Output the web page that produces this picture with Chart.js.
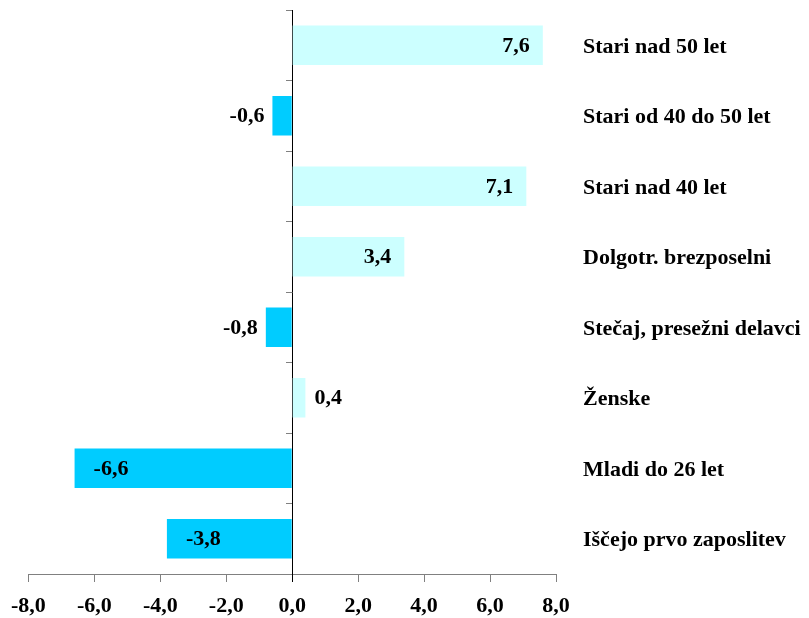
<!DOCTYPE html>
<html><head><meta charset="utf-8">
<script src="https://cdn.jsdelivr.net/npm/chart.js@4/dist/chart.umd.min.js"></script>
<style>html,body{margin:0;padding:0;background:#fff}</style>
</head><body>
<canvas id="c" width="809" height="618"></canvas>
<script>
const categories = ["Stari nad 50 let","Stari od 40 do 50 let","Stari nad 40 let","Dolgotr. brezposelni","Stečaj, presežni delavci","Ženske","Mladi do 26 let","Iščejo prvo zaposlitev"];
const values = [7.6, -0.6, 7.1, 3.4, -0.8, 0.4, -6.6, -3.8];
const xMin = -8, xMax = 8, xStep = 2;

const FONT = "'Liberation Serif','Times New Roman',serif";
const fmt = v => Number(v).toFixed(1).replace('.', ',');
const posColor = '#CCFFFF', negColor = '#00CCFF';

const labelPlugin = {
  id: 'valLabels',
  afterDatasetsDraw(chart) {
    const ctx = chart.ctx;
    const meta = chart.getDatasetMeta(0);
    ctx.save();
    ctx.font = 'bold 22px ' + FONT;
    ctx.fillStyle = '#000';
    ctx.textBaseline = 'middle';
    meta.data.forEach((bar, i) => {
      const v = values[i];
      const inside = Math.abs(v) >= 2;
      let x, align;
      if (v >= 0) {
        if (inside) { x = bar.x - 13; align = 'right'; } else { x = bar.x + 9; align = 'left'; }
      } else {
        if (inside) { x = bar.x + 19; align = 'left'; } else { x = bar.x - 8; align = 'right'; }
      }
      ctx.textAlign = align;
      ctx.fillText(fmt(v), x, bar.y + 1);
    });
    ctx.restore();
  }
};

new Chart(document.getElementById('c'), {
  type: 'bar',
  data: {
    labels: categories,
    datasets: [{
      data: values,
      backgroundColor: values.map(v => v >= 0 ? posColor : negColor),
      borderWidth: 0,
      barPercentage: 0.56,
      categoryPercentage: 1.0
    }]
  },
  options: {
    indexAxis: 'y',
    responsive: false,
    animation: false,
    devicePixelRatio: 1,
    layout: { padding: { left: 26, top: 10, right: 0, bottom: 0 } },
    plugins: { legend: { display: false }, tooltip: { enabled: false } },
    scales: {
      x: {
        type: 'linear', min: xMin, max: xMax, position: 'bottom',
        ticks: { stepSize: xStep, callback: v => fmt(v), font: { family: FONT, size: 22, weight: 'bold' }, color: '#000', padding: 11, maxRotation: 0, autoSkip: false },
        grid: { drawOnChartArea: false, drawTicks: true, tickLength: 8, color: c => (c.tick && c.tick.value === 0) ? '#000' : '#808080', lineWidth: 1 },
        border: { color: '#808080', width: 1 },
        afterFit(s) { s.height = 44; }
      },
      y: {
        type: 'category', position: { x: 0 }, offset: true,
        ticks: { display: false },
        grid: { offset: true, drawOnChartArea: false, tickLength: 6, color: '#808080' },
        border: { color: '#000', width: 1 }
      },
      y2: {
        type: 'category', axis: 'y', position: 'right', labels: categories, offset: true,
        ticks: { crossAlign: 'near', padding: 27, labelOffset: 2, font: { family: FONT, size: 22, weight: 'bold' }, color: '#000', autoSkip: false },
        grid: { display: false, drawTicks: false },
        border: { display: false },
        afterFit(s) { s.width = 253; s.paddingTop = 0; s.paddingBottom = 0; }
      }
    }
  },
  plugins: [labelPlugin]
});
</script>
</body></html>
